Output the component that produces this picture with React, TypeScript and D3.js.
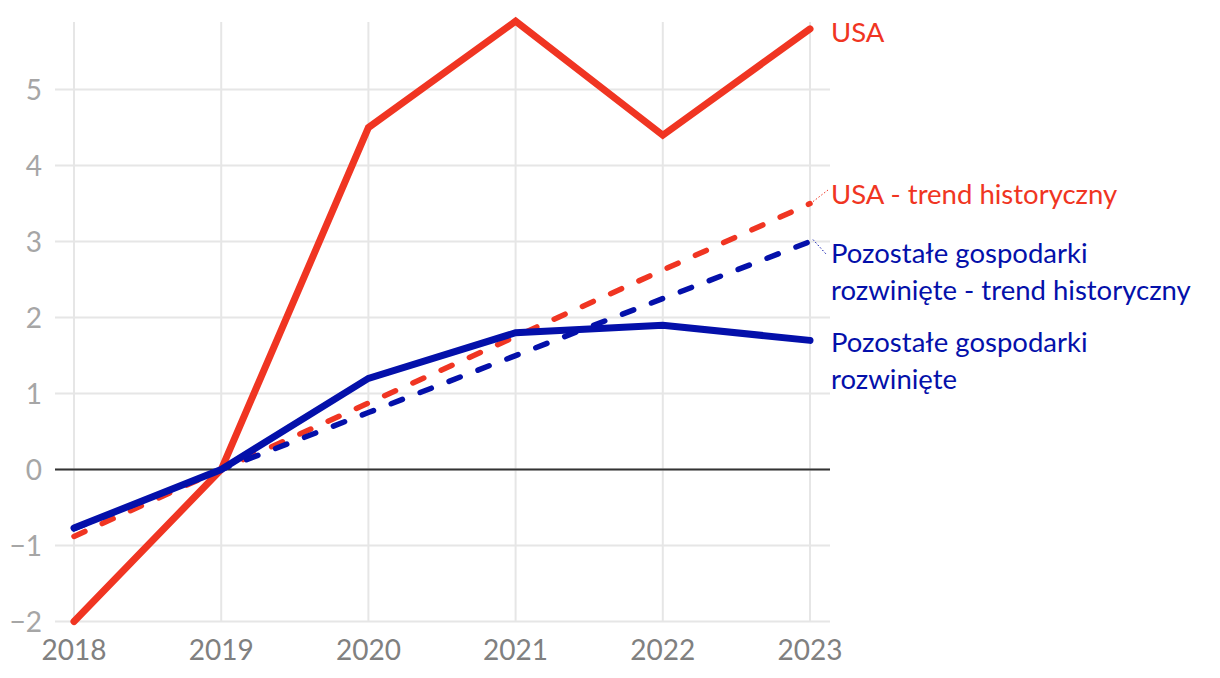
import React, { useEffect, useRef } from 'react';
import * as d3 from 'd3';

const years = [2018, 2019, 2020, 2021, 2022, 2023];
const usa = [-2, 0, 4.5, 5.9, 4.4, 5.8];
const usaTrend = [-0.88, 0, 0.875, 1.75, 2.625, 3.5];
const others = [-0.77, 0, 1.2, 1.8, 1.9, 1.7];
const othersTrend = [-0.78, 0, 0.75, 1.5, 2.25, 3.0];
const yTicks = [-2, -1, 0, 1, 2, 3, 4, 5];

const RED = '#f03522';
const BLUE = '#0410aa';

const W = 1220;
const H = 678;

const App: React.FC = () => {
  const svgRef = useRef<SVGSVGElement>(null);

  useEffect(() => {
    if (!svgRef.current) return;
    const svg = d3.select(svgRef.current);
    svg.selectAll('*').remove();

    const x = d3.scaleLinear().domain([2018, 2023]).range([74, 810]);
    const y = d3.scaleLinear().domain([-2, 5.89]).range([621.5, 22]);

    // grid
    svg.append('g')
      .selectAll('line')
      .data(yTicks)
      .join('line')
      .attr('x1', 55)
      .attr('x2', 830)
      .attr('y1', d => y(d))
      .attr('y2', d => y(d))
      .attr('stroke', '#e6e6e6')
      .attr('stroke-width', 2);

    svg.append('g')
      .selectAll('line')
      .data(years)
      .join('line')
      .attr('x1', d => x(d))
      .attr('x2', d => x(d))
      .attr('y1', y(5.89))
      .attr('y2', y(-2))
      .attr('stroke', '#e6e6e6')
      .attr('stroke-width', 2);

    // zero line
    svg.append('line')
      .attr('x1', 55)
      .attr('x2', 830)
      .attr('y1', y(0))
      .attr('y2', y(0))
      .attr('stroke', '#333')
      .attr('stroke-width', 2);

    // tick labels
    svg.append('g')
      .selectAll('text')
      .data(yTicks)
      .join('text')
      .attr('x', 42)
      .attr('y', d => y(d))
      .attr('dy', '0.36em')
      .attr('text-anchor', 'end')
      .attr('fill', '#a6a6a6')
      .style('font-family', 'Lato')
      .style('font-size', '28px')
      .text(d => (d < 0 ? '\u2212' + Math.abs(d) : String(d)));

    svg.append('g')
      .selectAll('text')
      .data(years)
      .join('text')
      .attr('x', d => x(d))
      .attr('y', 660)
      .attr('text-anchor', 'middle')
      .attr('fill', '#808080')
      .style('font-family', 'Lato')
      .style('font-size', '28px')
      .text(d => String(d));

    const line = d3.line<number>()
      .x((_, i) => x(years[i]))
      .y(d => y(d));

    const series = [
      { values: usaTrend, color: RED, width: 5.5, dash: '12,19' },
      { values: othersTrend, color: BLUE, width: 5.5, dash: '12,19' },
      { values: usa, color: RED, width: 7, dash: null },
      { values: others, color: BLUE, width: 7, dash: null },
    ];

    series.forEach(s => {
      svg.append('path')
        .attr('d', line(s.values) as string)
        .attr('fill', 'none')
        .attr('stroke', s.color)
        .attr('stroke-width', s.width)
        .attr('stroke-linecap', 'round')
        .attr('stroke-linejoin', 'miter')
        .attr('stroke-dasharray', s.dash);
    });

    // leader lines
    const leaders = [
      { from: usaTrend[5], to: [828, 190], color: RED },
      { from: othersTrend[5], to: [826, 254], color: BLUE },
    ];
    leaders.forEach(l => {
      svg.append('line')
        .attr('x1', x(2023) + 3)
        .attr('y1', y(l.from) - 2)
        .attr('x2', l.to[0])
        .attr('y2', l.to[1])
        .attr('stroke', l.color)
        .attr('stroke-width', 1)
        .attr('stroke-dasharray', '1.5,2');
    });

    // labels
    const labels = [
      { lines: ['USA'], y: 32, color: RED },
      { lines: ['USA - trend historyczny'], y: 194, color: RED },
      { lines: ['Pozostałe gospodarki', 'rozwinięte - trend historyczny'], y: 253, color: BLUE },
      { lines: ['Pozostałe gospodarki', 'rozwinięte'], y: 342, color: BLUE },
    ];
    labels.forEach(l => {
      const t = svg.append('text')
        .attr('fill', l.color)
        .style('font-family', 'Lato')
        .style('font-size', '27.5px');
      l.lines.forEach((s, i) => {
        t.append('tspan')
          .attr('x', 831)
          .attr('y', l.y + i * 37)
          .attr('dy', '0.36em')
          .text(s);
      });
    });
  }, []);

  return (
    <svg ref={svgRef} width={W} height={H} style={{ display: 'block', background: '#fff', margin: -8 }} />
  );
};

export default App;
